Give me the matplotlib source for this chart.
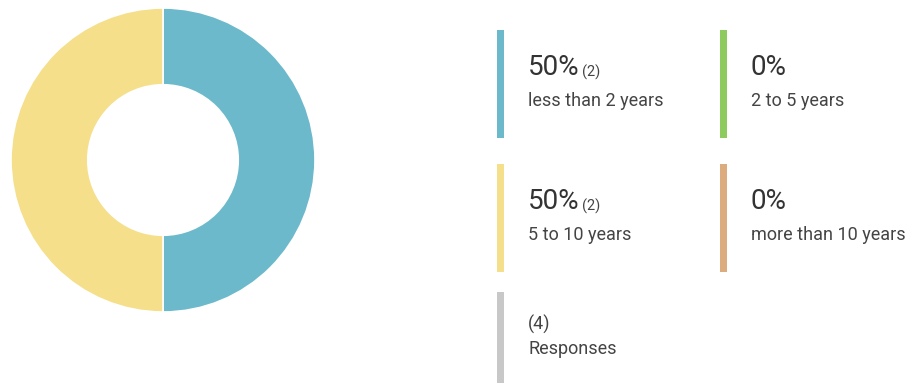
import matplotlib.pyplot as plt
from matplotlib.patches import Rectangle

# survey data
categories = ["less than 2 years", "2 to 5 years", "5 to 10 years", "more than 10 years"]
counts = [2, 0, 2, 0]
colors = ["#6cb9cc", "#8ecb5f", "#f5df8a", "#dcab7e"]
total_responses = 4

W, H = 911, 383
fig = plt.figure(figsize=(W / 100, H / 100), dpi=100)

# donut, centre (163, 160) px, radius 152 px
cx, cy, r = 163, 160, 152
pie_ax = fig.add_axes([(cx - r) / W, (H - cy - r) / H, 2 * r / W, 2 * r / H])
vals = [c for c in counts if c > 0]
cols = [col for c, col in zip(counts, colors) if c > 0]
pie_ax.pie(vals, colors=cols, startangle=90, counterclock=False, radius=1.0,
           wedgeprops=dict(width=0.505, edgecolor="white", linewidth=1.2))
pie_ax.set_xlim(-1, 1)
pie_ax.set_ylim(-1, 1)
pie_ax.set_aspect("equal")
pie_ax.axis("off")

# legend overlay in pixel coordinates
ax = fig.add_axes([0, 0, 1, 1])
ax.set_xlim(0, W)
ax.set_ylim(H, 0)
ax.axis("off")

font = "Roboto"
total = sum(counts)
col_x = [497, 720]
row_y = [30, 164]
for i, (label, n, col) in enumerate(zip(categories, counts, colors)):
    x0 = col_x[i % 2]
    y0 = row_y[i // 2]
    ax.add_patch(Rectangle((x0, y0), 7, 108, color=col, lw=0))
    pct = f"{round(100 * n / total)}%"
    big = ax.text(x0 + 31, y0 + 45, pct, fontsize=20, family=font,
                  color="#333333", va="baseline", ha="left")
    if n > 0:
        ax.annotate(f"({n})", xy=(1, 0), xycoords=big, xytext=(1.5, 3),
                    textcoords="offset points", fontsize=10.5, family=font,
                    color="#444444", va="baseline", ha="left")
    ax.text(x0 + 31, y0 + 76, label, fontsize=13, family=font,
            color="#444444", va="baseline", ha="left")

# responses block
ax.add_patch(Rectangle((col_x[0], 292), 7, 100, color="#c8c8c8", lw=0))
ax.text(col_x[0] + 31, 330, f"({total_responses})", fontsize=13, family=font,
        color="#444444", va="baseline", ha="left")
ax.text(col_x[0] + 31, 354, "Responses", fontsize=13, family=font,
        color="#444444", va="baseline", ha="left")

fig.savefig("out.png", dpi=100)
